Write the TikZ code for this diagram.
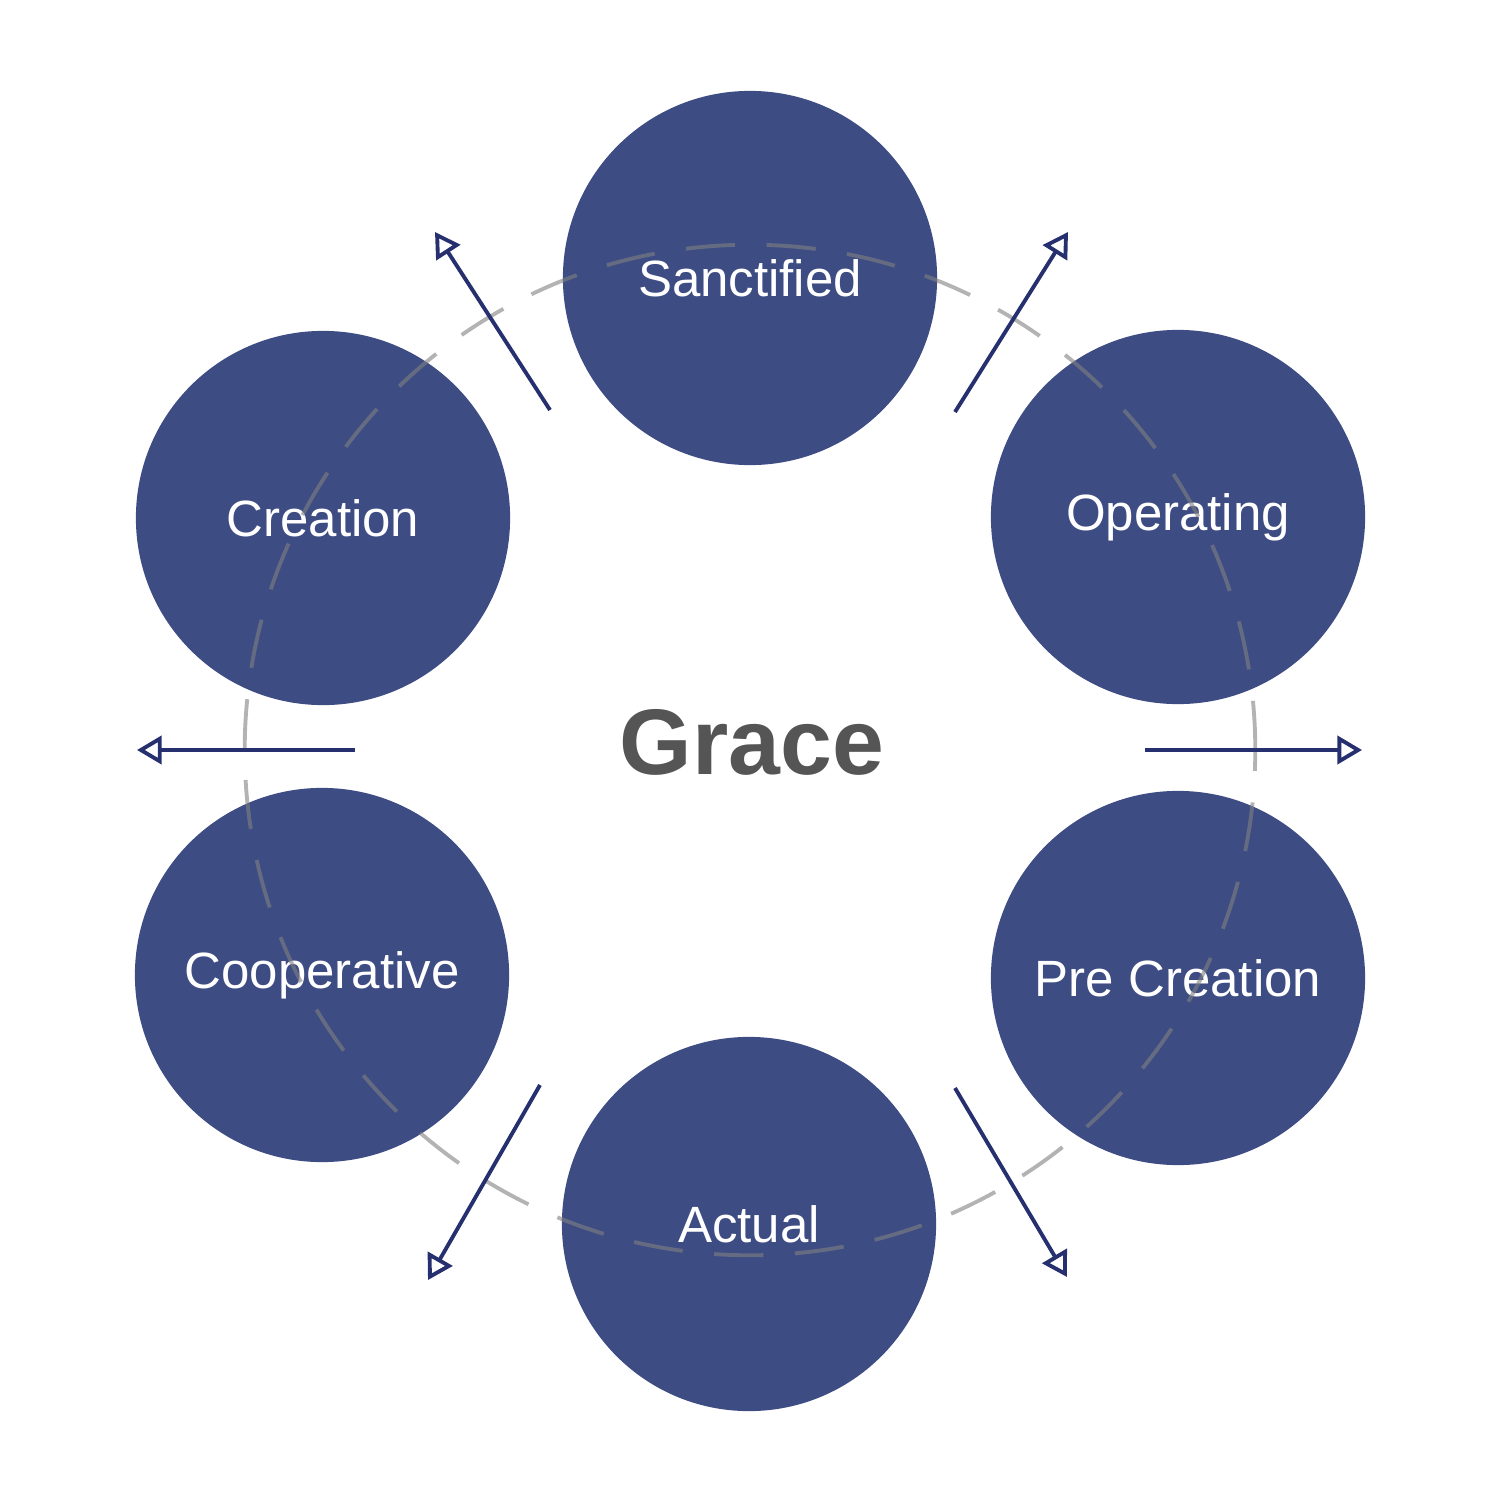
\documentclass[tikz,border=0pt]{standalone}
\usepackage{fontspec}
\setmainfont{Liberation Sans}
\usetikzlibrary{arrows.meta}
\definecolor{navy}{HTML}{3E4C84}
\definecolor{arr}{HTML}{26306E}
\definecolor{gr}{HTML}{555555}
\begin{document}
\begin{tikzpicture}[x=0.01cm,y=-0.01cm,
  bub/.style={circle,fill=navy,minimum size=3.74cm,inner sep=0,text=white,font=\fontsize{14.5pt}{17pt}\selectfont},
  ar/.style={draw=arr,line width=1.1pt,-{Triangle[open,length=7pt,width=8pt]}}]
\useasboundingbox (0,0) rectangle (1500,1500);
\node[bub] (s) at (750,278) {Sanctified};
\node[bub] (cr) at (323,518) {Creation};
\node[bub] (op) at (1178,517) {Operating};
\node[bub] (co) at (322,975) {Cooperative};
\node[bub] (pc) at (1178,978) {Pre Creation};
\node[bub] (ac) at (749,1224) {Actual};
\node[circle,draw=gray,draw opacity=0.6,dash pattern=on 14pt off 9pt,line width=1.1pt,minimum size=10.1cm,inner sep=0] (ring) at (750,750) {};
\node[font=\bfseries\fontsize{26.5pt}{30pt}\selectfont,text=gr] (g) at (752,742) {Grace};
\coordinate (a1) at (550,410); \coordinate (b1) at (435,232);
\coordinate (a2) at (955,412); \coordinate (b2) at (1068,232);
\coordinate (a3) at (355,750); \coordinate (b3) at (137,750);
\coordinate (a4) at (1145,750); \coordinate (b4) at (1362,750);
\coordinate (a5) at (540,1085); \coordinate (b5) at (428,1280);
\coordinate (a6) at (955,1088); \coordinate (b6) at (1067,1277);
\foreach \i in {1,...,6} \draw[ar] (a\i) -- (b\i);
\end{tikzpicture}
\end{document}
